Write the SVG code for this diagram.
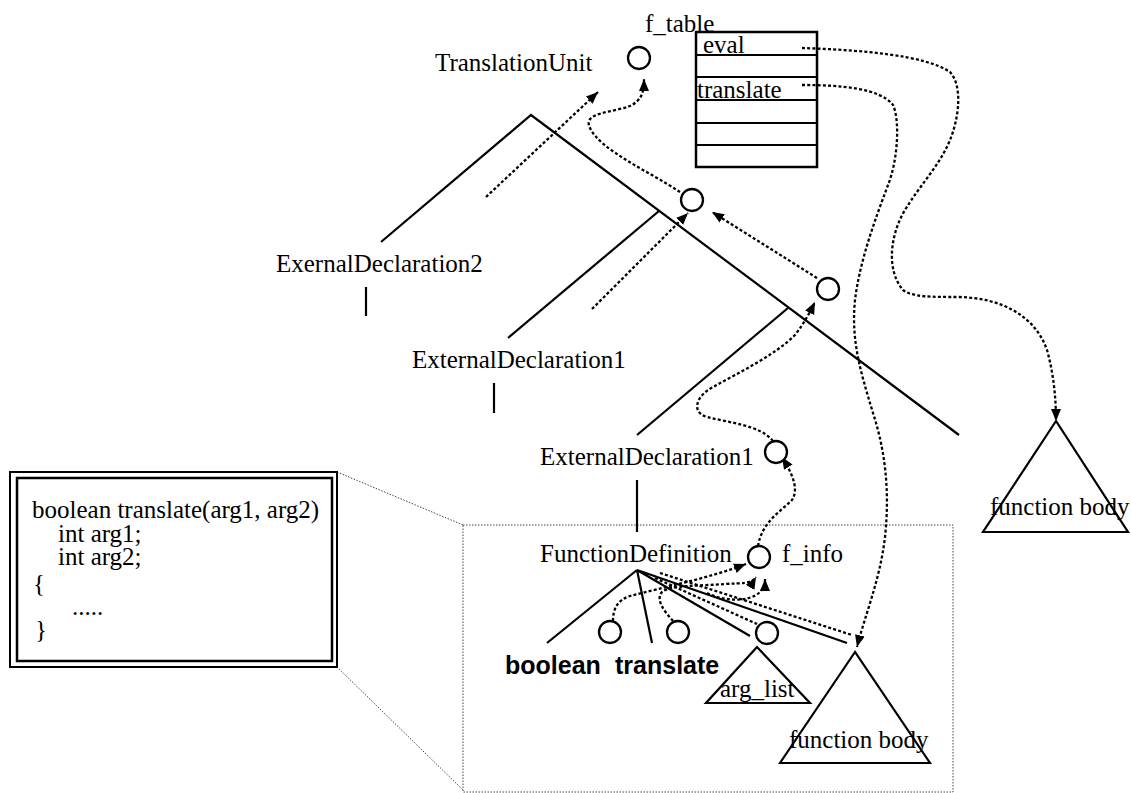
<svg xmlns="http://www.w3.org/2000/svg" width="1131" height="793" viewBox="0 0 1131 793">
<style>
.ln{fill:none;stroke:#000;stroke-width:2.2}
.dot{fill:none;stroke:#000;stroke-width:2.3;stroke-dasharray:3 2.2}
.thin{fill:none;stroke:#444;stroke-width:1;stroke-dasharray:1.5 1.5}
.nd{fill:#fff;stroke:#000;stroke-width:2.3}
.t{font-family:"Liberation Serif","Times New Roman",serif;font-size:25px;fill:#000}
.b{font-family:"Liberation Sans",Arial,sans-serif;font-size:25px;font-weight:bold;fill:#000}
</style>
<defs>
<marker id="ah" markerUnits="userSpaceOnUse" markerWidth="14" markerHeight="11" refX="12" refY="5" orient="auto">
<path d="M0,0 L12,5 L0,10 Z" fill="#000"/>
</marker>
</defs>
<rect width="1131" height="793" fill="#fff"/>

<g id="zoom-frame">
<path class="thin" d="M337,472 L463,525 M337,667 L463,790"/>
<rect class="thin" x="463" y="525" width="490" height="267"/>
</g>

<g id="code-box">
<rect x="10" y="472" width="327" height="195" fill="#fff" stroke="#000" stroke-width="2"/>
<rect x="17" y="478" width="315" height="183" fill="none" stroke="#000" stroke-width="2.5"/>
<text class="t" x="32" y="518">boolean translate(arg1, arg2)</text>
<text class="t" x="58" y="542">int arg1;</text>
<text class="t" x="58" y="565">int arg2;</text>
<text class="t" x="33" y="592">{</text>
<text class="t" x="72" y="615">.....</text>
<text class="t" x="35" y="638">}</text>
</g>

<g id="tree-lines">
<path class="ln" d="M381,242 L531,115 L959,435"/>
<path class="ln" d="M508,338 L659,211"/>
<path class="ln" d="M637,435 L788,308"/>
<path class="ln" d="M366,287 V316 M494,383 V413 M637,480 V532"/>
<path class="ln" d="M637,570 L547,643 M637,570 L652,643 M637,570 L750,636 M637,570 L847,643"/>
</g>

<g id="connectors">
<path class="dot" d="M486,197 L598,92" marker-end="url(#ah)"/>
<path class="dot" d="M680,192 C650,172 600,150 590,128 C582,112 612,113 630,106 C642,100 644,92 644,79" marker-end="url(#ah)"/>
<path class="dot" d="M592,309 L688,213" marker-end="url(#ah)"/>
<path class="dot" d="M817,278 L712,212" marker-end="url(#ah)"/>
<path class="dot" d="M773,441 C760,425 730,423 707,417 C690,412 697,395 713,387 C740,372 775,355 795,335 C805,322 810,312 815,302" marker-end="url(#ah)"/>
<path class="dot" d="M758,546 C762,522 780,512 792,500 C800,488 790,470 782,457" marker-end="url(#ah)"/>
<path class="dot" d="M802,48 C860,50 925,55 950,72 C962,85 960,115 950,140 C940,165 920,185 905,210 C890,235 886,270 903,290 C912,297 930,297 960,297 C1000,298 1035,315 1047,350 C1054,375 1056,400 1056,421" marker-end="url(#ah)"/>
<path class="dot" d="M802,85 C840,85 880,88 893,105 C900,120 898,160 888,185 C875,220 860,260 855,300 C851,340 860,370 873,413 C885,450 890,490 885,537 C880,580 865,615 857,647" marker-end="url(#ah)"/>
<path class="dot" d="M613,621 C613,608 618,600 630,596 C660,588 710,578 746,564" marker-end="url(#ah)"/>
<path class="dot" d="M673,621 C665,612 655,600 662,592 C670,585 700,586 725,584 C742,583 752,584 756,577" marker-end="url(#ah)"/>
<path class="dot" d="M707,593 C725,602 750,602 760,592 C764,588 765,584 765,579" marker-end="url(#ah)"/>
<path class="dot" d="M655,578 L757,624"/>
<path class="dot" d="M660,573 L852,635"/>
</g>

<g id="f_table">
<rect x="696" y="32" width="121" height="135" fill="none" stroke="#000" stroke-width="2.5"/>
<path class="ln" d="M696,55 H817 M696,77 H817 M696,100 H817 M696,123 H817 M696,145 H817"/>
<text class="t" x="645" y="32">f_table</text>
<text class="t" x="703" y="53">eval</text>
<text class="t" x="697" y="98">translate</text>
</g>

<g id="translation-unit">
<circle class="nd" cx="639" cy="58" r="11"/>
<text class="t" x="435" y="71">TranslationUnit</text>
</g>

<g id="ext-decl-2">
<circle class="nd" cx="692" cy="200" r="11"/>
<text class="t" x="276" y="272">ExernalDeclaration2</text>
</g>

<g id="ext-decl-1a">
<circle class="nd" cx="828" cy="289" r="11"/>
<text class="t" x="412" y="368">ExternalDeclaration1</text>
</g>

<g id="ext-decl-1b">
<circle class="nd" cx="776" cy="452" r="11"/>
<text class="t" x="540" y="465">ExternalDeclaration1</text>
</g>

<g id="function-definition">
<circle class="nd" cx="759" cy="557" r="11"/>
<text class="t" x="540" y="562">FunctionDefinition</text>
<text class="t" x="782" y="562">f_info</text>
</g>

<g id="boolean">
<circle class="nd" cx="610" cy="632" r="11"/>
<text class="b" x="505" y="674">boolean</text>
</g>

<g id="translate">
<circle class="nd" cx="678" cy="632" r="11"/>
<text class="b" x="615" y="674">translate</text>
</g>

<g id="arg-list">
<circle class="nd" cx="767" cy="633" r="11"/>
<path class="ln" d="M757,647 L706,703 L810,703 Z"/>
<text class="t" x="720" y="697">arg_list</text>
</g>

<g id="function-body-1">
<path class="ln" d="M855,652 L780,763 L930,763 Z"/>
<text class="t" x="789" y="748">function body</text>
</g>

<g id="function-body-2">
<path class="ln" d="M1056,421 L983,532 L1128,532 Z"/>
<text class="t" x="990" y="515">function body</text>
</g>
</svg>
